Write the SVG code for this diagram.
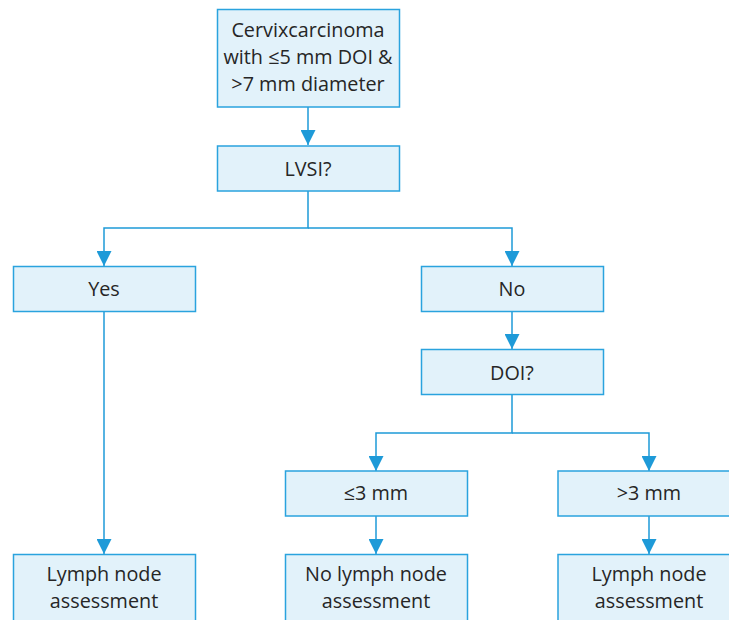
<svg xmlns="http://www.w3.org/2000/svg" width="729" height="620" viewBox="0 0 729 620">
<style>
.box{fill:#e2f2fa;stroke:#2aa3de;stroke-width:1.5}
.t{font-family:"Open Sans","Liberation Sans",sans-serif;font-size:19.8px;fill:#262626;text-anchor:middle}
.c{fill:none;stroke:#1e9ad8;stroke-width:1.5}
</style>
<defs>
<marker id="ah" markerWidth="15" markerHeight="15" viewBox="0 0 15 15" refX="15" refY="7.5" orient="auto" markerUnits="userSpaceOnUse">
<path d="M0,0 L15,7.5 L0,15 Z" fill="#1e9ad8"/>
</marker>
</defs>
<rect width="729" height="620" fill="#fff"/>
<g id="connectors">
<path class="c" d="M308,107 V145" marker-end="url(#ah)"/>
<path class="c" d="M308,191 V228 H104 V266" marker-end="url(#ah)"/>
<path class="c" d="M308,228 H512 V266" marker-end="url(#ah)"/>
<path class="c" d="M104,311 V554" marker-end="url(#ah)"/>
<path class="c" d="M512,311 V349" marker-end="url(#ah)"/>
<path class="c" d="M512,394 V433 H376 V471" marker-end="url(#ah)"/>
<path class="c" d="M512,433 H649 V471" marker-end="url(#ah)"/>
<path class="c" d="M376,516 V554" marker-end="url(#ah)"/>
<path class="c" d="M649,516 V554" marker-end="url(#ah)"/>
</g>
<g id="start">
<rect class="box" x="217.5" y="9.5" width="182" height="97.5"/>
<text class="t" x="308" y="37">Cervixcarcinoma</text>
<text class="t" x="308" y="64">with ≤5 mm DOI &amp;</text>
<text class="t" x="308" y="91">&gt;7 mm diameter</text>
</g>
<g id="lvsi">
<rect class="box" x="217.5" y="146" width="182" height="45"/>
<text class="t" x="308" y="176">LVSI?</text>
</g>
<g id="yes">
<rect class="box" x="13.5" y="266.5" width="182" height="45"/>
<text class="t" x="104" y="296">Yes</text>
</g>
<g id="no">
<rect class="box" x="421.5" y="266.5" width="182" height="45"/>
<text class="t" x="512" y="296">No</text>
</g>
<g id="doi">
<rect class="box" x="421.5" y="349.5" width="182" height="45"/>
<text class="t" x="512" y="380">DOI?</text>
</g>
<g id="le3">
<rect class="box" x="285.5" y="471" width="182" height="45"/>
<text class="t" x="376" y="500">≤3 mm</text>
</g>
<g id="gt3">
<rect class="box" x="558" y="471" width="182" height="45"/>
<text class="t" x="649" y="500">&gt;3 mm</text>
</g>
<g id="lymph1">
<rect class="box" x="13.5" y="554.5" width="182" height="80"/>
<text class="t" x="104" y="581">Lymph node</text>
<text class="t" x="104" y="608">assessment</text>
</g>
<g id="nolymph">
<rect class="box" x="285.5" y="554.5" width="182" height="80"/>
<text class="t" x="376" y="581">No lymph node</text>
<text class="t" x="376" y="608">assessment</text>
</g>
<g id="lymph2">
<rect class="box" x="558" y="554.5" width="182" height="80"/>
<text class="t" x="649" y="581">Lymph node</text>
<text class="t" x="649" y="608">assessment</text>
</g>
</svg>
